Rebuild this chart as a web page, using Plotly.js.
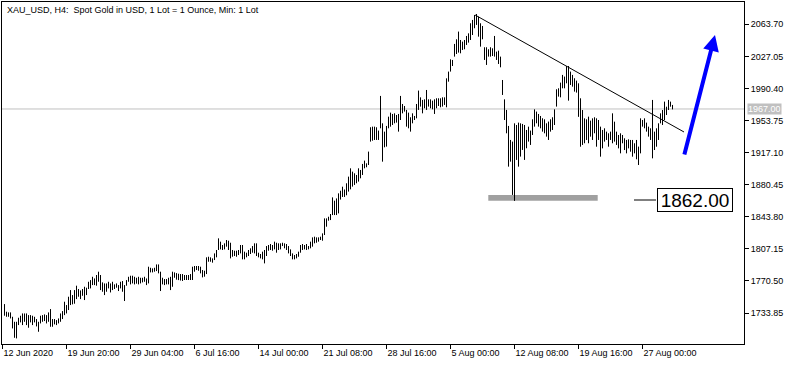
<!DOCTYPE html>
<html><head><meta charset="utf-8">
<script src="https://cdn.plot.ly/plotly-3.0.1.min.js"></script>
<style>html,body{margin:0;padding:0;background:#fff}#chart{width:797px;height:365px}</style>
</head><body><div id="chart"></div>
<script>
// H4 bar highs / lows (XAU_USD), bar index 0..334
const highs = [
1744.1,1735.4,1734.6,1734.6,1729.6,1723.9,1723.9,1728.5,1730.8,1733.4,
1733.4,1733.4,1731.5,1731.5,1730.8,1729.6,1727.0,1723.9,1730.8,1731.5,
1732.3,1731.5,1734.6,1738.4,1727.0,1727.0,1725.8,1727.7,1733.4,1736.1,
1746.8,1743.0,1752.5,1760.1,1754.4,1760.1,1765.1,1761.3,1759.7,1761.3,
1763.9,1762.8,1769.6,1771.5,1775.3,1773.4,1777.3,1781.1,1777.3,1768.9,
1767.7,1767.7,1769.6,1767.7,1769.6,1766.6,1767.7,1765.8,1769.6,1770.4,
1765.8,1771.5,1775.3,1776.5,1776.5,1775.3,1774.2,1775.3,1774.2,1774.2,
1775.3,1773.4,1786.8,1785.6,1784.9,1785.6,1789.4,1789.4,1781.1,1774.2,
1772.7,1772.7,1774.2,1775.3,1781.1,1780.3,1779.5,1778.8,1778.4,1778.4,
1777.3,1777.3,1777.3,1778.4,1786.8,1787.6,1787.6,1787.6,1786.8,1783.0,
1782.2,1797.5,1798.2,1797.5,1796.3,1802.0,1805.9,1819.2,1815.4,1811.6,
1813.5,1817.3,1816.5,1814.2,1805.9,1805.1,1805.1,1805.9,1811.6,1811.6,
1804.0,1802.8,1805.9,1807.8,1810.4,1813.5,1813.5,1802.8,1801.3,1804.0,
1805.9,1810.4,1811.6,1812.7,1811.6,1815.4,1814.2,1813.5,1813.5,1814.2,
1813.5,1812.7,1810.4,1806.6,1802.0,1800.1,1801.3,1804.0,1811.6,1812.7,
1811.6,1812.7,1810.4,1815.4,1820.3,1821.1,1820.3,1820.3,1821.1,1824.9,
1842.0,1842.0,1843.9,1847.0,1866.0,1862.2,1864.8,1870.6,1873.6,1878.2,
1875.0,1882.1,1889.7,1899.2,1895.4,1893.5,1891.6,1899.2,1897.3,1904.2,
1908.0,1904.9,1918.3,1946.1,1946.8,1946.8,1946.1,1942.3,1981.9,1950.6,
1941.1,1947.6,1958.2,1962.8,1961.3,1962.0,1960.1,1961.3,1981.9,1972.7,
1970.4,1965.9,1962.8,1957.5,1962.0,1959.0,1972.7,1988.0,1980.3,1977.3,
1978.0,1988.7,1978.0,1978.0,1976.5,1978.0,1979.2,1979.2,1979.2,1980.3,
1980.3,2002.0,2009.7,2023.7,2023.0,2041.3,2046.6,2055.4,2045.8,2043.9,
2045.8,2050.4,2053.4,2064.9,2068.7,2074.4,2075.5,2072.5,2064.9,2061.8,
2037.5,2037.5,2035.2,2037.5,2036.3,2050.4,2032.5,2033.6,2026.8,2000.1,
1978.0,1965.9,1947.6,1931.6,1929.7,1950.6,1948.7,1951.4,1950.6,1949.9,
1948.7,1943.0,1946.8,1942.3,1955.2,1966.6,1964.0,1961.3,1959.0,1956.4,
1955.2,1950.6,1952.6,1955.2,1957.5,1966.6,1989.5,1990.6,1997.1,2005.9,
2004.0,2016.1,2016.1,2009.7,2005.9,2002.1,1999.4,1996.3,1979.2,1965.8,
1956.3,1955.2,1958.2,1953.7,1956.3,1957.5,1956.3,1954.4,1946.8,1943.0,
1944.9,1941.1,1939.2,1941.1,1962.0,1952.5,1941.1,1937.3,1939.2,1937.3,
1933.5,1931.6,1932.3,1931.6,1931.6,1927.8,1931.6,1924.0,1956.3,1954.4,
1956.3,1951.4,1946.8,1944.9,1977.3,1941.1,1944.9,1950.6,1962.0,1965.8,
1975.4,1969.6,1977.3,1975.4,1971.6
];
const lows = [
1730.8,1729.6,1729.6,1727.7,1716.3,1705.6,1704.9,1720.1,1723.2,1720.1,
1723.9,1720.1,1717.1,1723.2,1720.1,1723.2,1718.6,1712.5,1722.0,1723.9,
1724.7,1722.0,1723.9,1718.2,1718.2,1720.9,1720.1,1722.0,1723.9,1727.0,
1731.5,1733.4,1737.3,1743.0,1743.8,1744.5,1749.8,1752.5,1749.8,1753.6,
1748.7,1754.4,1761.3,1762.0,1765.8,1765.8,1765.1,1769.6,1760.1,1758.2,
1754.4,1758.2,1762.0,1757.4,1760.1,1761.3,1762.8,1759.0,1762.0,1758.2,
1747.6,1765.1,1769.6,1766.6,1767.7,1766.6,1767.4,1766.6,1767.7,1768.9,
1769.6,1765.8,1767.7,1780.3,1780.3,1781.1,1781.8,1779.2,1759.0,1766.6,
1765.8,1766.6,1766.6,1760.1,1763.9,1774.2,1772.0,1771.5,1771.0,1770.5,
1771.6,1771.6,1771.6,1771.6,1771.6,1781.1,1783.0,1782.2,1779.2,1774.6,
1775.4,1778.4,1792.5,1792.5,1791.4,1794.4,1797.5,1805.9,1806.6,1805.9,
1806.6,1809.7,1805.9,1796.3,1798.2,1799.0,1798.2,1800.1,1802.0,1795.2,
1795.2,1797.5,1799.0,1801.3,1802.8,1802.0,1799.0,1797.5,1796.3,1795.2,
1790.6,1799.0,1805.1,1805.9,1805.1,1806.6,1802.8,1805.9,1806.6,1810.4,
1807.8,1805.9,1802.0,1799.0,1795.2,1795.2,1796.3,1798.2,1802.8,1805.9,
1806.6,1805.9,1806.6,1807.8,1809.7,1813.5,1814.2,1815.4,1817.3,1816.5,
1823.0,1832.5,1839.4,1840.1,1845.8,1845.8,1845.8,1847.7,1863.5,1866.5,
1866.5,1868.4,1872.6,1875.2,1878.3,1880.2,1882.1,1884.0,1887.8,1891.6,
1899.2,1900.4,1903.0,1929.7,1930.8,1931.6,1931.6,1931.6,1944.9,1906.8,
1923.2,1924.0,1944.9,1946.8,1948.7,1950.6,1951.4,1941.1,1954.4,1962.0,
1964.0,1946.8,1944.9,1941.1,1950.6,1954.4,1956.3,1965.9,1969.7,1962.0,
1967.8,1965.9,1969.7,1967.8,1966.6,1961.3,1967.8,1970.4,1968.9,1969.7,
1971.6,1968.9,1998.2,2009.7,2016.1,2026.8,2029.8,2031.4,2030.6,2034.4,
2035.2,2040.1,2042.8,2045.8,2051.5,2059.2,2063.0,2049.6,2038.2,2046.6,
2023.0,2017.3,2026.8,2026.8,2027.5,2026.8,2023.0,2018.4,2014.6,1983.0,
1954.4,1939.2,1901.1,1906.8,1868.8,1862.0,1908.8,1901.1,1912.6,1920.2,
1908.8,1922.1,1929.7,1925.9,1937.3,1946.8,1950.6,1946.8,1944.9,1941.1,
1939.2,1935.4,1931.6,1941.1,1943.0,1948.7,1969.7,1981.1,1980.3,1990.6,
1990.6,1996.3,1976.5,1994.4,1992.5,1986.8,1985.7,1958.0,1923.9,1925.9,
1927.8,1931.6,1927.8,1935.4,1931.6,1939.2,1923.9,1931.6,1912.5,1922.0,
1929.7,1931.6,1923.9,1931.6,1927.8,1929.7,1925.9,1922.0,1916.3,1927.8,
1920.1,1916.3,1922.0,1918.2,1912.5,1916.3,1909.5,1903.0,1916.3,1946.8,
1944.9,1941.1,1935.4,1931.6,1910.6,1920.1,1923.9,1931.6,1950.6,1948.7,
1954.4,1960.1,1965.8,1969.6,1966.5
];
const tickIdx = [-1, 31, 63, 95, 127, 159, 191, 223, 255, 287, 319];
const tickLabels = ['12 Jun 2020','19 Jun 20:00','29 Jun 04:00','6 Jul 16:00','14 Jul 00:00','21 Jul 08:00','28 Jul 16:00','5 Aug 00:00','12 Aug 08:00','19 Aug 16:00','27 Aug 00:00'];
const priceTicks = [1733.85,1770.50,1807.15,1843.80,1880.45,1917.10,1953.75,1990.40,2027.05,2063.70];
const currentPrice = 1967.00;
const supportLevel = 1862.00;
const trendX = [235.25, 339.75];
const trendY = [2074.4, 1940.7];
const supportBandX = [241.9, 296.6];
const supportBandY = [1862.2, 1868.7];
const arrowFrom = [339.75, 1913.3];
const arrowTo = [355.25, 2051.5];

const xs = [], ys = [];
for (let i = 0; i < highs.length; i++) {
  xs.push(i, i, null);
  ys.push(lows[i], highs[i], null);
}
const F = 'Liberation Sans, Arial, sans-serif';
const data = [{
  type: 'scatter', mode: 'lines', x: xs, y: ys,
  line: {color: '#000000', width: 1}, hoverinfo: 'skip', connectgaps: false
}];
const layout = {
  width: 797, height: 365,
  margin: {l: 2, r: 53, t: 2, b: 21, pad: 0},
  paper_bgcolor: '#ffffff', plot_bgcolor: '#ffffff',
  showlegend: false,
  title: {text: 'XAU_USD, H4:\u00a0\u00a0Spot Gold in USD, 1 Lot = 1 Ounce, Min: 1 Lot',
          x: 7/797, xanchor: 'left', y: 1 - 10/365, yanchor: 'middle',
          font: {family: F, size: 9, color: '#000'}},
  xaxis: {
    range: [-1.25, 369.75], showgrid: false, zeroline: false,
    showline: true, linecolor: '#000', linewidth: 1, mirror: true,
    ticks: 'outside', ticklen: 4, tickcolor: '#000', tickwidth: 1,
    tickmode: 'array', tickvals: tickIdx, ticktext: tickLabels,
    ticklabelposition: 'outside right',
    tickfont: {family: F, size: 9, color: '#000'}, fixedrange: true, automargin: false
  },
  yaxis: {
    side: 'right', range: [1698.5, 2089.2], showgrid: false, zeroline: false,
    showline: true, linecolor: '#000', linewidth: 1, mirror: true,
    ticks: 'outside', ticklen: 4, tickcolor: '#000', tickwidth: 1,
    tickmode: 'array', tickvals: priceTicks, tickformat: '.2f',
    tickfont: {family: F, size: 9, color: '#000'}, fixedrange: true, automargin: false
  },
  shapes: [
    {type: 'line', xref: 'paper', x0: 0, x1: 1, yref: 'y', y0: currentPrice, y1: currentPrice,
     line: {color: '#c0c0c0', width: 1}, layer: 'below'},
    {type: 'rect', xref: 'x', yref: 'y', x0: supportBandX[0], x1: supportBandX[1],
     y0: supportBandY[0], y1: supportBandY[1], fillcolor: '#a0a0a0', line: {width: 0}, layer: 'below'},
    {type: 'line', xref: 'x', yref: 'y', x0: trendX[0], y0: trendY[0], x1: trendX[1], y1: trendY[1],
     line: {color: '#000', width: 1}},
    {type: 'line', xref: 'x', yref: 'y', x0: 314.75, x1: 325.75, y0: 1863, y1: 1863,
     line: {color: '#000', width: 1}}
  ],
  annotations: [
    {xref: 'paper', x: 1, xanchor: 'left', xshift: 3, yref: 'y', y: currentPrice, yanchor: 'middle',
     text: currentPrice.toFixed(2), showarrow: false, bgcolor: '#c0c0c0',
     font: {family: F, size: 9, color: '#ffffff'}, borderpad: 0, height: 10},
    {xref: 'x', yref: 'y', x: 345.1, y: 1863, text: supportLevel.toFixed(2), showarrow: false,
     font: {family: F, size: 19, color: '#000'}, bgcolor: '#ffffff', bordercolor: '#000',
     borderwidth: 1, borderpad: 0, width: 74, height: 22},
    {xref: 'x', yref: 'y', x: arrowTo[0], y: arrowTo[1], axref: 'x', ayref: 'y',
     ax: arrowFrom[0], ay: arrowFrom[1], text: '', showarrow: true, arrowhead: 2,
     arrowsize: 0.8, arrowwidth: 4, arrowcolor: '#0000ff', standoff: 0}
  ]
};
Plotly.newPlot('chart', data, layout, {staticPlot: true, displayModeBar: false});
</script></body></html>
